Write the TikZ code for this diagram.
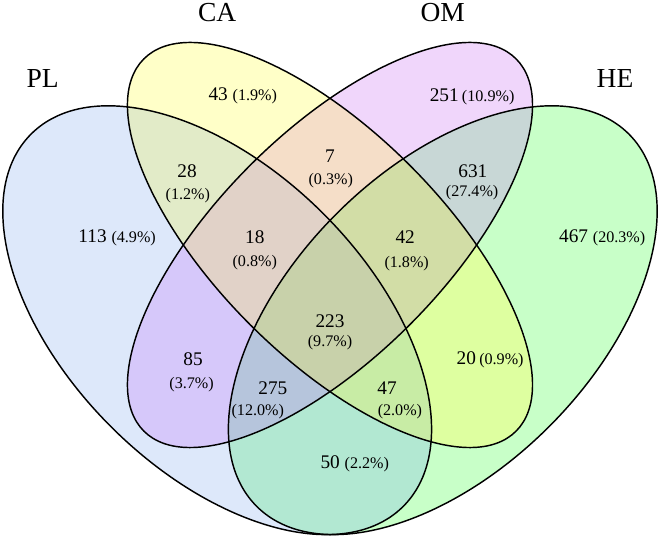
\documentclass[tikz,border=0pt]{standalone}
\usepackage{fontspec}
\setmainfont{Liberation Serif}
\usepackage{tikz}
% single sets
\definecolor{plc}{RGB}{221,232,250}
\definecolor{cac}{RGB}{255,255,200}
\definecolor{omc}{RGB}{240,214,251}
\definecolor{hec}{RGB}{200,255,200}
% overlaps
\definecolor{placc}{RGB}{226,235,200}
\definecolor{caomc}{RGB}{245,222,200}
\definecolor{omhec}{RGB}{200,215,214}
\definecolor{plomc}{RGB}{214,200,250}
\definecolor{cahec}{RGB}{222,255,160}
\definecolor{plhec}{RGB}{178,232,210}
\definecolor{placomc}{RGB}{225,210,200}
\definecolor{caomhec}{RGB}{210,221,166}
\definecolor{plomhec}{RGB}{182,197,220}
\definecolor{plcahec}{RGB}{200,236,165}
\definecolor{allc}{RGB}{200,209,170}
\newcommand{\numfnt}{\fontsize{7.3}{8.5}\selectfont}
\newcommand{\pctfnt}{\fontsize{6.1}{7}\selectfont}
\newcommand{\ellPL}{\clip[rotate around={135:(0.35,0.47)}] (0.35,0.47) ellipse [x radius=0.35,y radius=0.20];}
\newcommand{\ellCA}{\clip[rotate around={135:(0.50,0.57)}] (0.50,0.57) ellipse [x radius=0.35,y radius=0.15];}
\newcommand{\ellOM}{\clip[rotate around={45:(0.50,0.57)}] (0.50,0.57) ellipse [x radius=0.35,y radius=0.15];}
\newcommand{\ellHE}{\clip[rotate around={45:(0.65,0.47)}] (0.65,0.47) ellipse [x radius=0.35,y radius=0.20];}
\newcommand{\region}[2]{\begin{scope}#1\fill[#2] (0,0) rectangle (1,1);\end{scope}}

\begin{document}
\begin{tikzpicture}[x=10cm,y=10cm,
  setname/.style={font=\fontsize{10.4}{12}\selectfont,inner sep=0pt},
  cnt/.style={font=\numfnt,inner sep=0pt},
  pct/.style={font=\pctfnt,inner sep=0pt}]
  \useasboundingbox (0.0612,0.1804) rectangle (0.9402,0.8958);
  % fills, from one set to all four
  \region{\ellPL}{plc} \region{\ellCA}{cac} \region{\ellOM}{omc} \region{\ellHE}{hec}
  \region{\ellPL\ellCA}{placc} \region{\ellCA\ellOM}{caomc} \region{\ellOM\ellHE}{omhec}
  \region{\ellPL\ellOM}{plomc} \region{\ellCA\ellHE}{cahec} \region{\ellPL\ellHE}{plhec}
  \region{\ellPL\ellCA\ellOM}{placomc} \region{\ellCA\ellOM\ellHE}{caomhec}
  \region{\ellPL\ellOM\ellHE}{plomhec} \region{\ellPL\ellCA\ellHE}{plcahec}
  \region{\ellPL\ellCA\ellOM\ellHE}{allc}
  % outlines: centre / short radius / angle
  \foreach \cx/\cy/\rb/\ang in {0.35/0.47/0.20/135,0.50/0.57/0.15/135,0.50/0.57/0.15/45,0.65/0.47/0.20/45}
    {\draw[line width=0.55pt,rotate around={\ang:(\cx,\cy)}] (\cx,\cy) ellipse [x radius=0.35,y radius=\rb];}
  % set names
  \node[setname] (lPL) at (0.118,0.791) {PL};
  \node[setname] (lCA) at (0.350,0.879) {CA};
  \node[setname] (lOM) at (0.650,0.879) {OM};
  \node[setname] (lHE) at (0.879,0.791) {HE};
  % one line counts
  \node[cnt] (nCA) at (0.384,0.768) {43 {\pctfnt(1.9\%)}};
  \node[cnt] (nOM) at (0.689,0.767) {251\,{\pctfnt(10.9\%)}};
  \node[cnt] (nPL) at (0.217,0.579) {113 {\pctfnt(4.9\%)}};
  \node[cnt] (nHE) at (0.862,0.579) {467 {\pctfnt(20.3\%)}};
  \node[cnt] (nCAHE) at (0.713,0.418) {20\,{\pctfnt(0.9\%)}};
  \node[cnt] (nPLHE) at (0.533,0.279) {50 {\pctfnt(2.2\%)}};
  % two line counts
  \node[cnt] (nPLCA) at (0.310,0.668) {28}; \node[pct] (pPLCA) at (0.311,0.636) {(1.2\%)};
  \node[cnt] (nCAOM) at (0.500,0.688) {7}; \node[pct] (pCAOM) at (0.501,0.655) {(0.3\%)};
  \node[cnt] (nOMHE) at (0.690,0.668) {631}; \node[pct] (pOMHE) at (0.689,0.640) {(27.4\%)};
  \node[cnt] (nPLCAOM) at (0.400,0.581) {18}; \node[pct] (pPLCAOM) at (0.400,0.547) {(0.8\%)};
  \node[cnt] (nCAOMHE) at (0.600,0.581) {42}; \node[pct] (pCAOMHE) at (0.602,0.545) {(1.8\%)};
  \node[cnt] (nAll) at (0.500,0.469) {223}; \node[pct] (pAll) at (0.500,0.440) {(9.7\%)};
  \node[cnt] (nPLOM) at (0.318,0.418) {85}; \node[pct] (pPLOM) at (0.316,0.385) {(3.7\%)};
  \node[cnt] (nPLOMHE) at (0.424,0.379) {275}; \node[pct] (pPLOMHE) at (0.404,0.348) {(12.0\%)};
  \node[cnt] (nPLCAHE) at (0.576,0.379) {47}; \node[pct] (pPLCAHE) at (0.593,0.348) {(2.0\%)};
\end{tikzpicture}
\end{document}
